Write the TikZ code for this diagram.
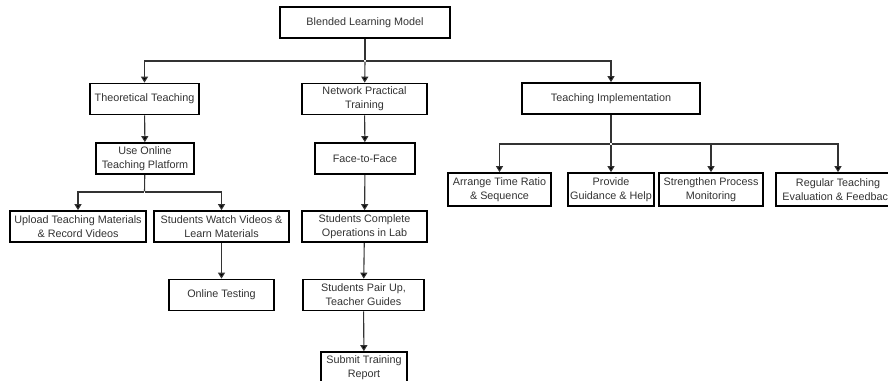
\documentclass[tikz,border=0pt]{standalone}
\usepackage{fontspec}
\setmainfont{Liberation Sans}
\usepackage[svgnames]{xcolor}
\usepackage{tikz}
\usetikzlibrary{backgrounds,arrows.meta}
\pgfdeclarelayer{edgelayer}
\pgfdeclarelayer{nodelayer}
\pgfsetlayers{edgelayer,nodelayer,main}
\tikzstyle{none}=[inner sep=0pt]
\definecolor{dgray}{rgb}{0.2,0.2,0.2}
\tikzstyle{stage}=[rectangle,fill=white,draw=black,line width=1.7pt,align=center,minimum height=31pt,inner sep=1pt,text=dgray,font=\fontsize{10.8}{13.8}\selectfont]
\tikzstyle{inarrow}=[-{Triangle[length=6pt,width=7pt,fill=black]}, line width=1.1pt, draw=dgray]
\tikzstyle{link}=[-, line width=1.1pt, draw=dgray]

\begin{document}
\begin{tikzpicture}[x=1pt,y=-1pt]
	\useasboundingbox (0,0) rectangle (888,380);
	\begin{pgfonlayer}{nodelayer}
		\node [style=stage, minimum width=170pt] (blm) at (365, 22.5) {Blended Learning Model};
		\node [style=stage, minimum width=109pt] (tt) at (144.5, 99) {Theoretical Teaching};
		\node [style=stage, minimum width=125pt] (npt) at (364.5, 99) {Network Practical\\Training};
		\node [style=stage, minimum width=178pt] (ti) at (611, 98.5) {Teaching Implementation};
		\node [style=stage, minimum width=98pt] (uotp) at (145, 158.5) {Use Online\\Teaching Platform};
		\node [style=stage, minimum width=100pt] (ftf) at (365, 158.5) {Face-to-Face};
		\node [style=stage, minimum width=103pt, minimum height=33pt] (atr) at (499.5, 189.5) {Arrange Time Ratio\\\& Sequence};
		\node [style=stage, minimum width=86pt, minimum height=33pt] (pgh) at (611, 189.5) {Provide\\Guidance \& Help};
		\node [style=stage, minimum width=104pt, minimum height=33pt] (spm) at (711, 189.5) {Strengthen Process\\Monitoring};
		\node [style=stage, minimum width=124pt, minimum height=33pt] (rte) at (838, 189.5) {Regular Teaching\\Evaluation \& Feedback};
		\node [style=stage, minimum width=136pt] (utm) at (78, 226.5) {Upload Teaching Materials\\\& Record Videos};
		\node [style=stage, minimum width=135pt] (swv) at (221.5, 226.5) {Students Watch Videos \&\\Learn Materials};
		\node [style=stage, minimum width=125pt] (sco) at (364.5, 226.5) {Students Complete\\Operations in Lab};
		\node [style=stage, minimum width=105pt] (ot) at (221.5, 295) {Online Testing};
		\node [style=stage, minimum width=121pt] (spu) at (363.5, 295) {Students Pair Up,\\Teacher Guides};
		\node [style=stage, minimum width=86pt] (str) at (364, 367.5) {Submit Training\\Report};
		\node [style=none] (J0) at (365, 61) {};
		\node [style=none] (J1) at (611, 144) {};
		\node [style=none] (J2) at (144.5, 192) {};
	\end{pgfonlayer}
	\begin{pgfonlayer}{edgelayer}
		\draw [style=link] (blm) -- (J0);
		\draw [style=inarrow] (J0) -| (tt);
		\draw [style=inarrow] (J0) -- (npt);
		\draw [style=inarrow] (J0) -| (ti);
		\draw [style=inarrow] (tt) -- (uotp);
		\draw [style=inarrow] (npt) -- (ftf);
		\draw [style=link] (ti) -- (J1);
		\draw [style=inarrow] (J1) -| (atr);
		\draw [style=inarrow] (J1) -- (pgh);
		\draw [style=inarrow] (J1) -| (spm);
		\draw [style=inarrow] (J1) -| (rte);
		\draw [style=link] (uotp) -- (J2);
		\draw [style=inarrow] (J2) -| (utm);
		\draw [style=inarrow] (J2) -| (swv);
		\draw [style=inarrow] (swv) -- (ot);
		\draw [style=inarrow] (ftf) -- (sco);
		\draw [style=inarrow] (sco) -- (spu);
		\draw [style=inarrow] (spu) -- (str);
	\end{pgfonlayer}
\end{tikzpicture}
\end{document}
